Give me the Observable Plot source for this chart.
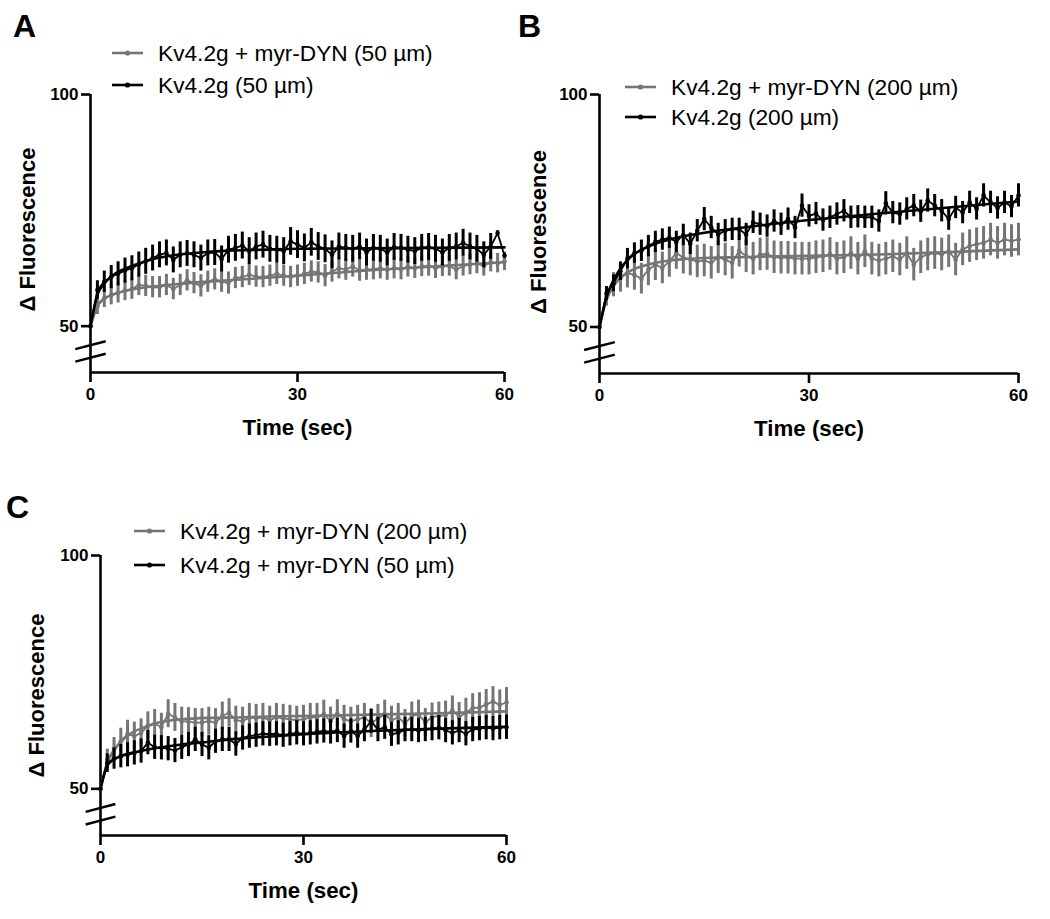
<!DOCTYPE html>
<html><head><meta charset="utf-8">
<script src="https://cdn.jsdelivr.net/npm/d3@7"></script>
<script src="https://cdn.jsdelivr.net/npm/@observablehq/plot@0.6"></script>
<style>
body{margin:0;background:#fff;font-family:"Liberation Sans",Arial,sans-serif;color:#000;}
#root{position:relative;width:1050px;height:919px;overflow:hidden;background:#fff;}
.panel{position:absolute;}
.letter{position:absolute;font-weight:bold;font-size:32px;line-height:32px;}
.legend{position:absolute;font-size:22.7px;}
.legend .row{display:flex;align-items:center;white-space:nowrap;}
.legend svg{margin-right:15px;}
</style></head><body><div id="root"></div>
<script>
// ---------- data ----------
const time = [0,1,2,3,4,5,6,7,8,9,10,11,12,13,14,15,16,17,18,19,20,21,22,23,24,25,26,27,28,29,30,31,32,33,34,35,36,37,38,39,40,41,42,43,44,45,46,47,48,49,50,51,52,53,54,55,56,57,58,59,60];
const fitTime = [0,1,2,3,4,5,6,8,10,12,16,20,25,30,40,50,60];
const yTicks = [50,100];
const xTicks = [0,30,60];
const yDomain = [40,100];
const xDomain = [0,60];
const axisBreaks = [45.9,43.2];

// Panel A
const aDyn50 = [50,54.3,56.0,56.7,57.2,57.7,58.0,58.9,58.7,58.4,58.4,58.9,58.0,58.9,59.9,59.3,58.7,59.6,60.1,59.6,59.3,60.4,60.6,61.1,60.7,60.6,60.9,61.3,60.9,60.6,60.9,61.3,61.8,61.6,60.9,61.8,62.5,62.2,62.9,62.0,62.2,62.3,62.5,62.2,62.5,62.3,62.8,62.5,62.9,63.0,62.5,62.9,63.0,62.2,63.0,63.3,63.5,63.0,63.8,63.6,64.0];
const aDyn50Sem = [0,1.8,2.0,2.1,2.2,2.2,2.2,2.3,2.3,2.3,2.3,2.3,2.3,2.3,2.3,2.3,2.4,2.3,2.3,2.3,2.4,2.3,2.3,2.3,2.3,2.3,2.3,2.3,2.3,2.3,2.3,2.3,2.3,2.3,2.4,2.3,2.3,2.3,2.3,2.3,2.3,2.3,2.3,2.3,2.3,2.3,2.2,2.2,2.2,2.2,2.2,2.2,2.2,2.2,2.2,2.2,2.2,2.2,2.1,2.1,2.0];
const aDyn50Fit = [50,54.5,55.9,56.7,57.2,57.6,57.9,58.4,58.7,59.0,59.5,59.9,60.4,60.9,62.0,62.9,63.8];
const aKv50 = [50,57.8,59.6,60.6,61.3,62.0,62.5,63.3,64.0,64.7,65.4,65.8,64.3,65.4,65.7,65.4,64.7,65.8,65.9,64.5,66.5,66.9,67.4,66.2,67.2,67.6,66.7,66.5,66.2,68.3,67.6,66.9,68.1,67.2,66.7,65.4,67.2,66.9,66.7,67.2,65.9,66.9,66.7,65.9,67.1,66.9,66.5,66.2,66.9,67.1,66.7,65.9,66.9,67.2,68.0,67.2,66.7,65.4,67.2,70.1,65.2];
const aKv50Sem = [0,2.0,2.3,2.5,2.6,2.7,2.7,2.7,2.8,2.8,2.8,2.8,2.8,2.8,2.8,2.8,2.8,2.8,2.8,2.8,2.9,2.9,2.9,2.9,2.9,2.9,2.9,2.9,2.9,3.0,3.0,3.0,3.0,3.0,3.0,3.0,2.9,2.9,2.9,2.9,2.9,2.9,2.9,2.9,2.9,2.9,2.9,2.9,2.9,2.9,2.9,2.9,2.9,2.9,2.9,2.9,2.9,2.8,2.8,0.5,0.5];
const aKv50Fit = [50,56.8,59.2,60.7,61.7,62.4,63.0,64.0,64.8,65.3,65.9,66.3,66.5,66.7,66.8,66.9,67.0];

// Panel B
const bDyn200 = [50,56.5,59.1,60.5,61.6,61.2,60.4,62.3,63.4,62.7,64.1,65.9,64.9,64.5,64.1,64.3,63.8,65.0,64.5,63.8,66.4,65.2,64.7,65.6,65.7,65.0,64.9,64.9,64.7,64.7,64.7,65.0,65.2,65.7,64.7,65.0,65.9,64.7,66.3,64.7,64.3,64.7,65.2,64.5,65.9,63.4,65.0,65.6,65.9,65.6,66.3,64.5,66.7,67.4,67.8,68.1,68.8,68.1,68.8,68.5,68.8];
const bDyn200Sem = [0,2.0,2.6,3.0,3.2,3.3,3.3,3.4,3.4,3.4,3.4,3.5,3.5,3.5,3.5,3.5,3.5,3.5,3.5,3.5,3.5,3.5,3.5,3.5,3.5,3.5,3.5,3.5,3.5,3.5,3.5,3.5,3.5,3.5,3.5,3.5,3.5,3.5,3.5,3.5,3.5,3.5,3.5,3.5,3.5,3.5,3.5,3.5,3.5,3.5,3.5,3.5,3.5,3.5,3.5,3.5,3.5,3.5,3.5,3.5,3.5];
const bDyn200Fit = [50,55.8,58.8,60.6,61.7,62.5,63.0,63.8,64.3,64.6,64.9,65.0,65.2,65.3,65.6,66.1,66.7];
const bKv200 = [50,57.2,59.4,62.0,64.7,65.9,66.4,67.4,68.3,68.8,69.2,68.3,69.8,67.9,70.7,73.2,71.4,69.9,70.7,71.0,71.0,69.9,72.5,72.1,71.7,72.8,72.1,73.2,71.4,76.1,73.9,74.4,73.0,73.6,74.3,75.0,73.6,73.7,73.6,73.6,72.8,76.6,74.6,74.3,75.4,76.1,74.9,77.2,76.1,75.0,73.2,75.7,74.6,76.8,75.4,78.3,76.8,75.6,76.8,75.9,78.3];
const bKv200Sem = [0,1.5,1.8,2.0,2.2,2.2,2.3,2.3,2.3,2.3,2.3,2.3,2.3,2.3,2.4,2.5,2.4,2.4,2.4,2.4,2.4,2.4,2.4,2.4,2.4,2.4,2.4,2.4,2.4,2.5,2.4,2.4,2.4,2.4,2.4,2.4,2.4,2.4,2.4,2.4,2.4,2.5,2.4,2.4,2.4,2.4,2.4,2.5,2.4,2.4,2.4,2.4,2.4,2.4,2.4,2.5,2.4,2.4,2.4,2.4,2.5];
const bKv200Fit = [50,56.5,60.0,62.6,64.4,65.7,66.6,67.9,68.8,69.5,70.5,71.3,72.2,73.0,74.4,75.7,77.0];

// Panel C
const cDyn200 = [50,56.3,58.4,60.2,61.7,61.3,62.0,63.5,64.0,63.2,66.1,65.3,64.5,64.4,64.2,64.2,64.5,64.2,65.6,66.3,64.7,64.5,65.3,65.1,65.3,64.7,65.3,65.1,64.9,64.7,64.9,65.3,65.3,66.0,64.5,66.1,64.9,64.5,64.9,65.3,64.0,65.1,66.0,64.7,65.3,64.0,65.6,66.0,64.2,65.4,65.6,65.8,66.8,65.4,66.3,67.3,67.4,68.1,68.7,68.0,68.5];
const cDyn200Sem = [0,2.2,2.6,2.8,3.0,3.0,3.0,3.0,3.0,3.0,3.0,3.0,3.0,3.0,3.0,3.0,3.0,3.0,3.0,3.0,3.0,3.0,3.0,3.0,3.0,3.0,3.0,3.0,3.0,3.0,3.0,3.0,3.0,3.0,3.0,3.0,3.0,3.0,3.0,3.0,3.0,3.0,3.0,3.0,3.0,3.0,3.0,3.0,3.0,3.0,3.0,3.0,3.1,3.1,3.1,3.1,3.2,3.2,3.2,3.2,3.2];
const cDyn200Fit = [50,55.5,58.2,60.1,61.4,62.3,62.9,64.0,64.6,64.9,65.2,65.3,65.5,65.6,65.9,66.2,66.6];
const cDyn50 = [50,55.5,56.5,57.0,57.3,57.7,58.1,59.9,58.9,58.8,58.6,58.2,58.9,59.5,60.6,59.5,58.8,60.2,60.6,60.6,59.6,60.9,61.3,61.5,61.8,61.7,61.8,61.5,61.8,62.0,61.8,62.0,62.2,62.4,62.2,62.5,61.3,62.4,61.3,62.7,64.5,62.7,63.2,61.7,62.0,62.7,62.7,62.5,62.7,62.9,63.1,62.5,62.0,62.5,61.8,62.7,62.9,63.1,62.9,63.1,63.2];
const cDyn50Sem = [0,2.0,2.3,2.5,2.6,2.6,2.6,2.6,2.6,2.6,2.6,2.6,2.6,2.6,2.6,2.6,2.6,2.6,2.6,2.6,2.6,2.6,2.6,2.6,2.6,2.6,2.6,2.6,2.6,2.6,2.6,2.6,2.6,2.6,2.6,2.6,2.6,2.6,2.6,2.6,2.6,2.6,2.6,2.6,2.6,2.6,2.6,2.6,2.6,2.6,2.6,2.6,2.6,2.6,2.6,2.6,2.6,2.6,2.6,2.6,2.6];
const cDyn50Fit = [50,55.0,56.3,57.0,57.5,57.8,58.1,58.7,59.1,59.5,60.1,60.7,61.2,61.7,62.4,62.9,63.3];

const grey = "#757575";
const black = "#000000";

// ---------- helpers ----------
const rows = (vals, sem) => time.map((t, i) => ({t, v: vals[i], e: sem[i]}));
const fitRows = (vals) => fitTime.map((t, i) => ({t, v: vals[i]}));

function panel(cfg) {
  const marks = [
    Plot.ruleY([yDomain[0]], {x1: xDomain[0], x2: xDomain[1], strokeWidth: 2.6}),
    Plot.ruleX([xDomain[0]], {y1: yDomain[0], y2: yDomain[1], strokeWidth: 2.6}),
    Plot.link(axisBreaks, {x1: -2.2, x2: 2.2, y1: d => d - 0.85, y2: d => d + 0.85, strokeWidth: 2.4}),
    Plot.axisY({ticks: yTicks, tickSize: 9, tickPadding: 3, strokeWidth: 2.6, label: null, fontSize: 17, fontWeight: "bold"}),
    Plot.axisX({ticks: xTicks, tickSize: 10, tickPadding: 5, strokeWidth: 2.6, label: null, fontSize: 17, fontWeight: "bold"}),
    Plot.text(["Time (sec)"], {text: d => d, frameAnchor: "bottom", textAnchor: "middle", lineAnchor: "middle", dy: 55, fontSize: 22.3, fontWeight: "bold"}),
    Plot.text(["Δ Fluorescence"], {text: d => d, frameAnchor: "left", textAnchor: "middle", lineAnchor: "middle", dx: cfg.labelDx, dy: cfg.labelDy, rotate: -90, fontSize: 22, fontWeight: "bold"})
  ];
  for (const s of cfg.series) {
    const data = rows(s.vals, s.sem);
    marks.push(
      Plot.ruleX(data, {x: "t", y1: d => d.v - d.e, y2: d => d.v + d.e, stroke: s.color, strokeWidth: 3}),
      Plot.line(fitRows(s.fit), {x: "t", y: "v", stroke: s.color, strokeWidth: 2.6, curve: "monotone-x"}),
      Plot.line(data, {x: "t", y: "v", stroke: s.color, strokeWidth: 1.8}),
      Plot.dot(data, {x: "t", y: "v", r: 2.3, fill: s.color})
    );
  }
  const svg = Plot.plot({
    width: cfg.w, height: cfg.h,
    marginLeft: cfg.ml, marginRight: cfg.mr, marginTop: cfg.mt, marginBottom: cfg.mb,
    x: {domain: xDomain},
    y: {domain: yDomain},
    style: {fontFamily: "'Liberation Sans', Arial, sans-serif", color: "#000", background: "transparent", overflow: "visible"},
    marks
  });
  // enlarge the axis tick labels (bold, 17px) to match the figure
  d3.select(svg).selectAll('g[aria-label$="tick label"] text')
    .style("font-size", "17px").style("font-weight", "bold");
  d3.select(svg).selectAll('g[aria-label$="tick label"]')
    .style("font-size", "17px").style("font-weight", "bold");
  svg.classList.add("panel");
  svg.style.left = cfg.left + "px";
  svg.style.top = cfg.top + "px";
  return svg;
}

function legend(items, left, top, rowH) {
  const div = document.createElement("div");
  div.className = "legend";
  div.style.left = left + "px";
  div.style.top = top + "px";
  for (const it of items) {
    const row = document.createElement("div");
    row.className = "row";
    row.style.height = rowH + "px";
    row.innerHTML = `<svg width="31" height="10"><line x1="0" y1="5" x2="31" y2="5" stroke="${it.color}" stroke-width="2.6"/><circle cx="15.5" cy="5" r="2.6" fill="${it.color}"/></svg><span>${it.label}</span>`;
    div.appendChild(row);
  }
  return div;
}

function letter(txt, left, top) {
  const d = document.createElement("div");
  d.className = "letter";
  d.textContent = txt;
  d.style.left = left + "px";
  d.style.top = top + "px";
  return d;
}

const root = document.getElementById("root");

root.appendChild(panel({
  left: 0, top: 0, w: 530, h: 450, ml: 90, mr: 26, mt: 94, mb: 78, labelDx: -63, labelDy: -4,
  series: [
    {vals: aDyn50, sem: aDyn50Sem, fit: aDyn50Fit, color: grey},
    {vals: aKv50, sem: aKv50Sem, fit: aKv50Fit, color: black}
  ]
}));
root.appendChild(panel({
  left: 510, top: 0, w: 540, h: 450, ml: 89, mr: 32, mt: 94, mb: 77, labelDx: -61, labelDy: -2,
  series: [
    {vals: bDyn200, sem: bDyn200Sem, fit: bDyn200Fit, color: grey},
    {vals: bKv200, sem: bKv200Sem, fit: bKv200Fit, color: black}
  ]
}));
root.appendChild(panel({
  left: 0, top: 460, w: 530, h: 459, ml: 100, mr: 24, mt: 95, mb: 84, labelDx: -64, labelDy: 0,
  series: [
    {vals: cDyn200, sem: cDyn200Sem, fit: cDyn200Fit, color: grey},
    {vals: cDyn50, sem: cDyn50Sem, fit: cDyn50Fit, color: black}
  ]
}));

root.appendChild(legend([
  {label: "Kv4.2g + myr-DYN (50 µm)", color: grey},
  {label: "Kv4.2g (50 µm)", color: black}
], 112, 37, 32));
root.appendChild(legend([
  {label: "Kv4.2g + myr-DYN (200 µm)", color: grey},
  {label: "Kv4.2g (200 µm)", color: black}
], 625, 72, 30));
root.appendChild(legend([
  {label: "Kv4.2g + myr-DYN (200 µm)", color: grey},
  {label: "Kv4.2g + myr-DYN (50 µm)", color: black}
], 134, 514, 34));

root.appendChild(letter("A", 13, 10));
root.appendChild(letter("B", 518, 10));
root.appendChild(letter("C", 6, 491));
</script></body></html>
